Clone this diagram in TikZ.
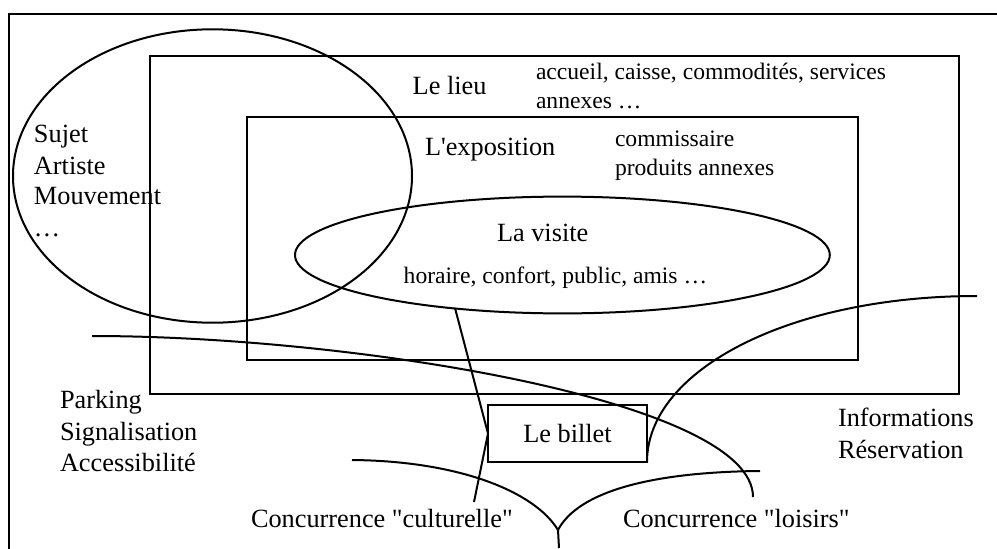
\documentclass[tikz,border=0pt]{standalone}
\usepackage{fontspec}
\newfontfamily\tnr{Liberation Serif}
\usetikzlibrary{shapes.geometric}
\begin{document}
\begin{tikzpicture}[x=1pt,y=-1pt,line width=2pt,
  box/.style={draw,rectangle,inner sep=0pt,outer sep=0pt,anchor=north west},
  oval/.style={draw,ellipse,inner sep=0pt,outer sep=0pt},
  big/.style={font=\tnr\fontsize{26.3}{30}\selectfont,inner sep=0pt,anchor=base west},
  small/.style={font=\tnr\fontsize{23.6}{28}\selectfont,inner sep=0pt,anchor=base west}]
\useasboundingbox (0,0) rectangle (997,549);
% outer frame (only left and top edges visible)
\coordinate (fbl) at (9.3,560);
\coordinate (ftl) at (9.3,13.7);
\coordinate (ftr) at (1010,13.7);
\draw (fbl) -- (ftl) -- (ftr);
% rectangles
\node[box,minimum width=809pt,minimum height=338pt] (lieu) at (150,56) {};
\node[box,minimum width=611pt,minimum height=243pt] (expo) at (247,117) {};
\node[draw,rectangle,inner sep=0pt,outer sep=0pt,minimum width=159pt,minimum height=57pt,
      font=\tnr\fontsize{26.3}{30}\selectfont] (billet) at (567.5,433.5) {Le billet};
% ellipses
\node[oval,minimum width=399pt,minimum height=293.4pt] (sujet) at (212.5,176) {};
\node[oval,minimum width=534.8pt,minimum height=116.8pt] (visite) at (562.4,255) {};
% texts
\node[big] (tlieu) at (411.7,94.3) {Le lieu};
\node[small] (acc1) at (535,79) {accueil, caisse, commodités, services};
\node[small] (acc2) at (535,108.3) {annexes …};
\node[big] (texpo) at (424,155.7) {L'exposition};
\node[small] (com1) at (614,146.7) {commissaire};
\node[small] (com2) at (614,175.7) {produits annexes};
\node[big] (s1) at (33,142.7) {Sujet};
\node[big] (s2) at (33,174) {Artiste};
\node[big] (s3) at (33,204) {Mouvement};
\node[big] (s4) at (33,236.7) {…};
\node[big] (tvisite) at (496,241.7) {La visite};
\node[small] (hor) at (402.7,283.3) {horaire, confort, public, amis …};
\node[big] (p1) at (59,408) {Parking};
\node[big] (p2) at (59,440) {Signalisation};
\node[big] (p3) at (59,471) {Accessibilité};
\node[big] (i1) at (837,426) {Informations};
\node[big] (i2) at (837,458) {Réservation};
\node[big] (cc) at (250,527.3) {Concurrence "culturelle"};
\node[big] (cl) at (622,527.3) {Concurrence "loisirs"};
% curves
\coordinate (c1a) at (92,336);
\coordinate (c1b) at (753,497);
\draw (c1a) .. controls (350,336) and (753,400) .. (c1b);
\coordinate (c2b) at (977,296);
\draw (billet.south east) .. controls (647,370) and (790,296) .. (c2b);
\coordinate (tip) at (558,530);
\coordinate (stem) at (559,548);
\coordinate (c3a) at (352,460);
\coordinate (c4a) at (760,471);
\draw (c3a) .. controls (460,461) and (535,492) .. (tip);
\draw (c4a) .. controls (650,472) and (578,492) .. (tip);
\draw (tip) -- (stem);
\coordinate (k1) at (455,308);
\coordinate (k3) at (474,502);
\draw (k1) -- (billet.west) -- (k3);
\end{tikzpicture}
\end{document}
